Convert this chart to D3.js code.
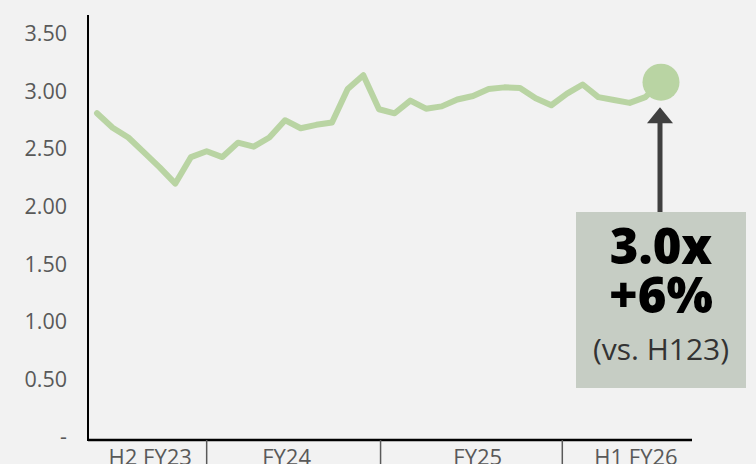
<!DOCTYPE html>
<html>
<head>
<meta charset="utf-8">
<script src="https://cdn.jsdelivr.net/npm/d3@7"></script>
<style>
  html, body { margin: 0; padding: 0; background: #f2f2f2; }
  svg { display: block; }
  svg text { font-family: "Open Sans", "Noto Sans", sans-serif; }
</style>
</head>
<body>
<div id="chart"></div>
<script>
// monthly ratio values
var values = [2.81, 2.685, 2.60, 2.47, 2.34, 2.20, 2.43, 2.48, 2.43, 2.555, 2.52, 2.60,
              2.75, 2.68, 2.71, 2.73, 3.02, 3.14, 2.845, 2.81, 2.92, 2.85, 2.87, 2.93,
              2.96, 3.02, 3.035, 3.03, 2.94, 2.88, 2.98, 3.06, 2.95, 2.925, 2.90, 2.95];
var lastValue = 3.08;   // highlighted end point
var yTicks = [0, 0.5, 1, 1.5, 2, 2.5, 3, 3.5];
var periods = ['H2 FY23', 'FY24', 'FY25', 'H1 FY26'];
var periodBreaks = [7, 18.1, 29.7];           // index where a period ends
var periodLabelAt = [3.4, 12.1, 24.3, 34.4];   // label centre, in index units
var boxLines = ['3.0x', '+6%', '(vs. H123)'];

var W = 756, H = 464;
var left = 88, right = 692, axisY = 440;

var svg = d3.select('#chart').append('svg')
    .attr('width', W)
    .attr('height', H);

svg.append('rect').attr('width', W).attr('height', H).attr('fill', '#f2f2f2');

var allVals = values.concat([lastValue]);

var x = d3.scaleLinear()
    .domain([0, allVals.length - 1])
    .range([97, 661]);

var y = d3.scaleLinear()
    .domain([0, 3.5])
    .range([437, 33.8]);

// y axis
var yAxis = d3.axisLeft(y)
    .tickValues(yTicks)
    .tickSize(0)
    .tickPadding(21)
    .tickFormat(d => d === 0 ? '-' : d3.format('.2f')(d));

var gy = svg.append('g')
    .attr('transform', `translate(${left},0)`)
    .call(yAxis);
gy.select('.domain').remove();
gy.attr('font-family', null);
gy.selectAll('text')
    .style('font-size', '21.5px')
    .attr('fill', '#595959');

// axis lines
svg.append('line')
    .attr('x1', left).attr('x2', left)
    .attr('y1', 15).attr('y2', axisY + 1)
    .attr('stroke', '#000').attr('stroke-width', 2);
svg.append('line')
    .attr('x1', left).attr('x2', right)
    .attr('y1', axisY).attr('y2', axisY)
    .attr('stroke', '#000').attr('stroke-width', 2.5);

// period separators + labels
svg.selectAll('.sep')
    .data(periodBreaks)
    .join('line')
    .attr('class', 'sep')
    .attr('x1', d => x(d)).attr('x2', d => x(d))
    .attr('y1', axisY).attr('y2', H)
    .attr('stroke', '#595959').attr('stroke-width', 1.5);

svg.selectAll('.period')
    .data(periods)
    .join('text')
    .attr('class', 'period')
    .attr('x', (d, i) => x(periodLabelAt[i]))
    .attr('y', 465)
    .attr('text-anchor', 'middle')
    .style('font-size', '22px')
    .attr('fill', '#595959')
    .text(d => d);

// line
var line = d3.line()
    .x((d, i) => x(i))
    .y(d => y(d));

svg.append('path')
    .datum(allVals)
    .attr('d', line)
    .attr('fill', 'none')
    .attr('stroke', '#b9d4a3')
    .attr('stroke-width', 6)
    .attr('stroke-linejoin', 'round')
    .attr('stroke-linecap', 'round');

var lastI = allVals.length - 1;
svg.append('circle')
    .attr('cx', x(lastI))
    .attr('cy', y(lastValue))
    .attr('r', 18.5)
    .attr('fill', '#b9d4a3');

// arrow from box up to the point
var ax = x(lastI) - 1;
var boxTop = 212;
var tipY = y(lastValue) + 25;
svg.append('line')
    .attr('x1', ax).attr('x2', ax)
    .attr('y1', boxTop).attr('y2', tipY + 12)
    .attr('stroke', '#404040').attr('stroke-width', 5);
svg.append('path')
    .attr('d', `M${ax},${tipY} L${ax + 13},${tipY + 16} L${ax - 13},${tipY + 16} Z`)
    .attr('fill', '#404040');

// annotation box
var boxX = 576, boxW = 170, boxH = 176;
svg.append('rect')
    .attr('x', boxX).attr('y', boxTop)
    .attr('width', boxW).attr('height', boxH)
    .attr('fill', '#c6cdc4');

var cx = boxX + boxW / 2;
svg.append('text')
    .attr('x', cx).attr('y', 264)
    .attr('text-anchor', 'middle')
    .style('font-size', '49px').style('font-weight', '800')
    .attr('fill', '#000')
    .text(boxLines[0]);
svg.append('text')
    .attr('x', cx).attr('y', 313)
    .attr('text-anchor', 'middle')
    .style('font-size', '49px').style('font-weight', '800')
    .attr('fill', '#000')
    .text(boxLines[1]);
svg.append('text')
    .attr('x', cx).attr('y', 360)
    .attr('text-anchor', 'middle')
    .style('font-size', '30px')
    .attr('fill', '#333')
    .text(boxLines[2]);
</script>
</body>
</html>
